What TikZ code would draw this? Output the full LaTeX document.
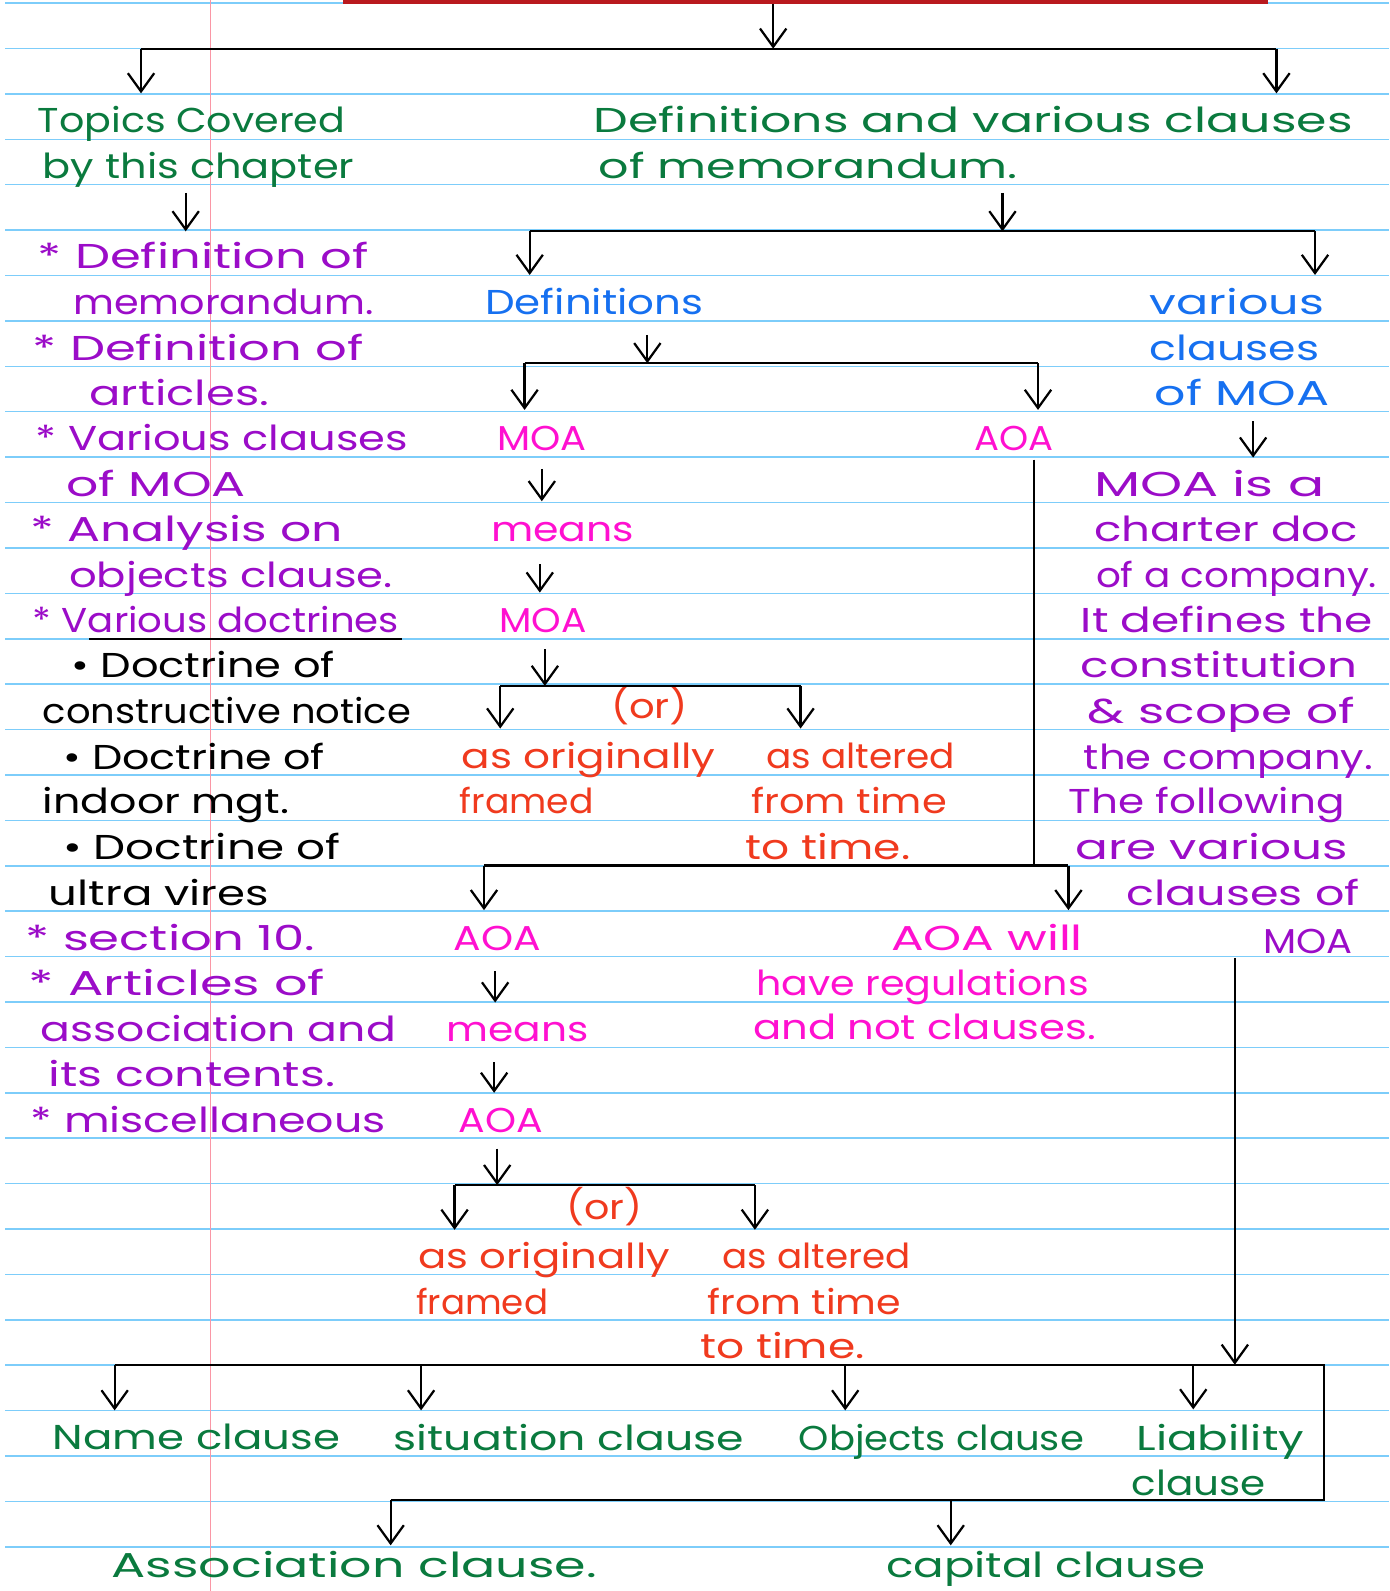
\documentclass[tikz,border=0pt]{standalone}
\usepackage{fontspec}
\setmainfont{Poppins}
\usepackage{graphicx}
\usetikzlibrary{arrows.meta}

\definecolor{hwgreen}{RGB}{10,122,62}
\definecolor{hwpurple}{RGB}{155,12,200}
\definecolor{hwblue}{RGB}{22,112,240}
\definecolor{hwpink}{RGB}{255,16,208}
\definecolor{hwred}{RGB}{240,58,30}
\definecolor{ruleblue}{RGB}{125,205,250}
\definecolor{marginred}{RGB}{250,150,165}
\definecolor{barred}{RGB}{185,25,30}

% one handwritten line: name, colour, base point, width, text
\newcommand\hw[5]{\node[hwtext,text=#2] (#1) at (#3) {\resizebox{#4pt}{\height}{#5}};}

\tikzset{
  hwtext/.style={anchor=base west, inner sep=0pt, font=\fontsize{34}{38}\selectfont},
  bar/.style={line width=2.2pt, black},
  drop/.style={bar, -{Straight Barb[length=18pt,width=26pt,line width=2.2pt]}},
}

\begin{document}
\begin{tikzpicture}[x=1pt, y=-1pt]
\useasboundingbox (0,0) rectangle (1369,1568);

% ruled paper
\foreach \k in {0,...,35}
  \draw[ruleblue, line width=1.5pt] (5,{3+44.75*\k}) -- (1369,{3+44.75*\k});
\draw[marginred, line width=1pt] (207,0) -- (207,1568);
\fill[barred] (338,0) rectangle (1250,4);

% left column
\hw{topicsA}{hwgreen}{37,131}{303}{Topics Covered}
\hw{topicsB}{hwgreen}{42,176}{307}{by this chapter}
\hw{listA}{hwpurple}{37,265}{326}{* Definition of}
\hw{listB}{hwpurple}{72,310}{296}{memorandum.}
\hw{listC}{hwpurple}{32,355}{326}{* Definition of}
\hw{listD}{hwpurple}{88,400}{177}{articles.}
\hw{listE}{hwpurple}{35,444}{367}{* Various clauses}
\hw{listF}{hwpurple}{65,489}{177}{of MOA}
\hw{listG}{hwpurple}{30,534}{308}{* Analysis on}
\hw{listH}{hwpurple}{68,579}{319}{objects clause.}
\hw{listI}{hwpurple}{32,623}{361}{* Various doctrines}
\draw[bar, line width=1.8pt] (88,630) -- (396,630);
\hw{docA}{black}{70,668}{260}{• Doctrine of}
\hw{docB}{black}{42,713}{363}{constructive notice}
\hw{docC}{black}{62,758}{258}{• Doctrine of}
\hw{docD}{black}{42,802}{243}{indoor mgt.}
\hw{docE}{black}{62,847}{273}{• Doctrine of}
\hw{docF}{black}{48,892}{217}{ultra vires}
\hw{listJ}{hwpurple}{25,937}{285}{* section 10.}
\hw{listK}{hwpurple}{28,981}{292}{* Articles of}
\hw{listL}{hwpurple}{40,1026}{350}{association and}
\hw{listM}{hwpurple}{48,1071}{282}{its contents.}
\hw{listN}{hwpurple}{30,1116}{350}{* miscellaneous}

% middle column
\hw{defvarA}{hwgreen}{585,131}{748}{Definitions and various clauses}
\hw{defvarB}{hwgreen}{590,176}{413}{of memorandum.}
\hw{defs}{hwblue}{478,310}{215}{Definitions}
\hw{moaA}{hwpink}{490,444}{88}{MOA}
\hw{aoaA}{hwpink}{960,444}{78}{AOA}
\hw{meansA}{hwpink}{484,534}{141}{means}
\hw{moaB}{hwpink}{492,623}{86}{MOA}
\hw{orA}{hwred}{602,708}{76}{(or)}
\hw{origA}{hwred}{455,757}{250}{as originally}
\hw{framedA}{hwred}{453,802}{132}{framed}
\hw{altA}{hwred}{755,757}{186}{as altered}
\hw{fromA}{hwred}{740,802}{193}{from time}
\hw{toA}{hwred}{735,847}{162}{to time.}
\hw{aoaB}{hwpink}{447,937}{86}{AOA}
\hw{meansB}{hwpink}{440,1026}{140}{means}
\hw{aoaC}{hwpink}{452,1116}{83}{AOA}
\hw{orB}{hwred}{558,1202}{75}{(or)}
\hw{origB}{hwred}{412,1250}{248}{as originally}
\hw{framedB}{hwred}{410,1295}{130}{framed}
\hw{altB}{hwred}{712,1250}{185}{as altered}
\hw{fromB}{hwred}{697,1295}{191}{from time}
\hw{toB}{hwred}{690,1339}{162}{to time.}
\hw{willA}{hwpink}{878,937}{189}{AOA will}
\hw{willB}{hwpink}{745,981}{328}{have regulations}
\hw{willC}{hwpink}{742,1024}{338}{and not clauses.}

% right column
\hw{varA}{hwblue}{1133,310}{172}{various}
\hw{varB}{hwblue}{1133,355}{167}{clauses}
\hw{varC}{hwblue}{1138,400}{172}{of MOA}
\hw{charA}{hwpurple}{1078,489}{227}{MOA is a}
\hw{charB}{hwpurple}{1078,534}{260}{charter doc}
\hw{charC}{hwpurple}{1080,579}{277}{of a company.}
\hw{charD}{hwpurple}{1065,623}{288}{It defines the}
\hw{charE}{hwpurple}{1065,668}{273}{constitution}
\hw{charF}{hwpurple}{1072,713}{263}{\& scope of}
\hw{charG}{hwpurple}{1068,758}{285}{the company.}
\hw{charH}{hwpurple}{1053,802}{272}{The following}
\hw{charI}{hwpurple}{1060,847}{268}{are various}
\hw{charJ}{hwpurple}{1110,892}{230}{clauses of}
\hw{charK}{hwpurple}{1245,940}{88}{MOA}

% clauses
\hw{name}{hwgreen}{52,1429}{283}{Name clause}
\hw{situ}{hwgreen}{388,1430}{345}{situation clause}
\hw{objs}{hwgreen}{787,1430}{281}{Objects clause}
\hw{liabA}{hwgreen}{1120,1430}{165}{Liability}
\hw{liabB}{hwgreen}{1115,1474}{132}{clause}
\hw{assoc}{hwgreen}{110,1555}{478}{Association clause.}
\hw{capital}{hwgreen}{873,1555}{315}{capital clause}

% junctions
\coordinate (top) at (762,4);
\coordinate (topjoin) at (762,48);
\coordinate (barAl) at (139,48);
\coordinate (barAr) at (1258,48);
\coordinate (topicsin) at (139,92);
\coordinate (defvarin) at (1258,92);
\coordinate (topicsout) at (183,190);
\coordinate (listin) at (183,228);
\coordinate (defvarout) at (988,190);
\coordinate (barBl) at (522,228);
\coordinate (barBm) at (988,228);
\coordinate (barBr) at (1296,228);
\coordinate (defsin) at (522,271);
\coordinate (varin) at (1296,271);
\coordinate (defsout) at (638,330);
\coordinate (barCl) at (517,358);
\coordinate (barCm) at (638,358);
\coordinate (barCr) at (1023,358);
\coordinate (moaAin) at (517,404);
\coordinate (aoaAin) at (1023,404);
\coordinate (moaAout) at (534,462);
\coordinate (meansAin) at (534,494);
\coordinate (meansAout) at (532,556);
\coordinate (moaBin) at (532,584);
\coordinate (moaBout) at (537,640);
\coordinate (barDl) at (493,676);
\coordinate (barDm) at (537,676);
\coordinate (barDr) at (789,676);
\coordinate (origAin) at (493,718);
\coordinate (altAin) at (789,718);
\coordinate (aoaAout) at (1019,453);
\coordinate (barEl) at (477,853);
\coordinate (barEm) at (1019,853);
\coordinate (barEr) at (1053,853);
\coordinate (aoaBin) at (477,897);
\coordinate (willin) at (1053,897);
\coordinate (aoaBout) at (488,957);
\coordinate (meansBin) at (488,988);
\coordinate (meansBout) at (487,1047);
\coordinate (aoaCin) at (487,1077);
\coordinate (aoaCout) at (490,1132);
\coordinate (barFl) at (448,1168);
\coordinate (barFm) at (490,1168);
\coordinate (barFr) at (744,1168);
\coordinate (origBin) at (448,1212);
\coordinate (altBin) at (744,1212);
\coordinate (varout) at (1235,415);
\coordinate (charin) at (1235,451);
\coordinate (charout) at (1217,944);
\coordinate (barGj) at (1217,1345);
\coordinate (barGl) at (113,1345);
\coordinate (barGr) at (1305,1345);
\coordinate (barHr) at (1305,1478);
\coordinate (barHl) at (385,1478);
\coordinate (barGa) at (415,1345);
\coordinate (barGb) at (833,1345);
\coordinate (barGc) at (1176,1345);
\coordinate (barHb) at (937,1478);
\coordinate (namein) at (113,1390);
\coordinate (situin) at (415,1390);
\coordinate (objsin) at (833,1390);
\coordinate (liabin) at (1176,1389);
\coordinate (associn) at (385,1523);
\coordinate (capitalin) at (937,1523);

% bars
\draw[bar] (barAl) -- (barAr);
\draw[bar] (barBl) -- (barBr);
\draw[bar] (barCl) -- (barCr);
\draw[bar] (barDl) -- (barDr);
\draw[bar] (aoaAout) -- (barEm);
\draw[bar] (barEl) -- (barEr);
\draw[bar] (barFl) -- (barFr);
\draw[bar] (barGl) -- (barGr) -- (barHr) -- (barHl);

% arrows
\foreach \a/\b in {top/topjoin, barAl/topicsin, barAr/defvarin,
    topicsout/listin, defvarout/barBm, barBl/defsin, barBr/varin,
    defsout/barCm, barCl/moaAin, barCr/aoaAin,
    moaAout/meansAin, meansAout/moaBin, moaBout/barDm,
    barDl/origAin, barDr/altAin, barEl/aoaBin, barEr/willin,
    aoaBout/meansBin, meansBout/aoaCin, aoaCout/barFm,
    barFl/origBin, barFr/altBin, varout/charin, charout/barGj,
    barGl/namein, barGa/situin, barGb/objsin, barGc/liabin,
    barHl/associn, barHb/capitalin}
  \draw[drop] (\a) -- (\b);
\end{tikzpicture}
\end{document}
